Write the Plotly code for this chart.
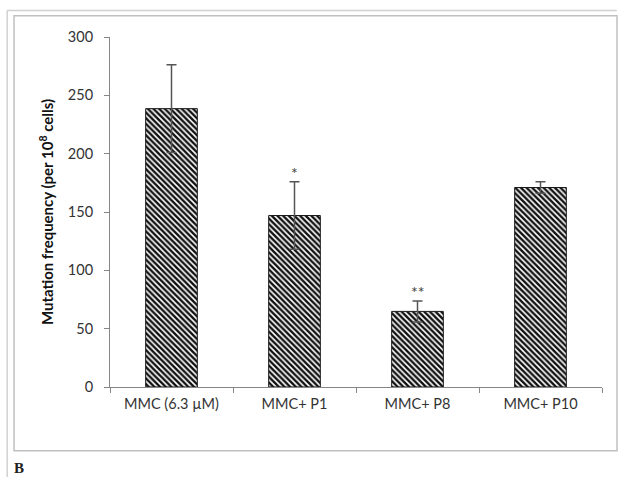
import plotly.graph_objects as go

categories = ["MMC (6.3 \u00b5M)", "MMC+ P1", "MMC+ P8", "MMC+ P10"]
values = [238.6, 147.0, 64.8, 171.0]
errors = [37.7, 29.0, 9.0, 5.0]
stars = ["", "*", "**", ""]
y_ticks = [0, 50, 100, 150, 200, 250, 300]

fig = go.Figure()
fig.add_trace(go.Bar(
    x=categories, y=values, width=0.42,
    marker=dict(color="white", line=dict(color="#1a1a1a", width=1),
                pattern=dict(shape="\\", fgcolor="#111111", bgcolor="white",
                             size=4, solidity=0.6, fillmode="replace")),
    error_y=dict(type="data", array=errors, visible=True,
                 color="#555555", thickness=1.5, width=5),
))

for c, v, e, s in zip(categories, values, errors, stars):
    if s:
        fig.add_annotation(x=c, y=v + e, text=s, showarrow=False,
                           yanchor="bottom", yshift=-2,
                           font=dict(family="Lato", size=16, color="#404040"))

font = "Lato"
# Frame and image borders (paper coordinates)
fig.add_shape(type="rect", xref="paper", yref="paper",
              x0=-0.195, x1=1.0305, y0=-0.182, y1=1.061,
              line=dict(color="#c0c0c0", width=1.5), layer="below")
fig.add_shape(type="line", xref="paper", yref="paper",
              x0=-0.209, x1=1.03, y0=1.076, y1=1.076,
              line=dict(color="#d0d0d0", width=1.5))
fig.add_shape(type="line", xref="paper", yref="paper",
              x0=-0.209, x1=-0.209, y0=1.076, y1=-0.26,
              line=dict(color="#d0d0d0", width=1.5))
fig.add_annotation(xref="paper", yref="paper", x=-0.199, y=-0.232,
                   text="<b>B</b>", showarrow=False, xanchor="left", yanchor="middle",
                   font=dict(family="Liberation Serif", size=15, color="#222222"))

fig.update_layout(
    width=618, height=477,
    margin=dict(l=110, r=16, t=37, b=90),
    plot_bgcolor="white", paper_bgcolor="white",
    showlegend=False,
    font=dict(family=font, color="#404040"),
)
fig.update_xaxes(
    showline=True, linecolor="#868686", linewidth=1,
    ticks="outside", ticklen=5, tickcolor="#868686", tickson="boundaries",
    tickfont=dict(family=font, size=14.5, color="#333333"),
    showgrid=False, zeroline=False, ticklabelstandoff=4,
)
fig.update_yaxes(
    range=[0, 300], tickvals=y_ticks,
    showline=True, linecolor="#868686", linewidth=1,
    ticks="outside", ticklen=5, tickcolor="#868686",
    tickfont=dict(family=font, size=14.5, color="#333333"),
    showgrid=False, zeroline=False, ticklabelstandoff=8,
    title=dict(text="<b>Mutation frequency (per 10<sup>8</sup> cells)</b>",
               font=dict(family=font, size=15, color="#111111"), standoff=10),
)

fig.write_html("out.html")
